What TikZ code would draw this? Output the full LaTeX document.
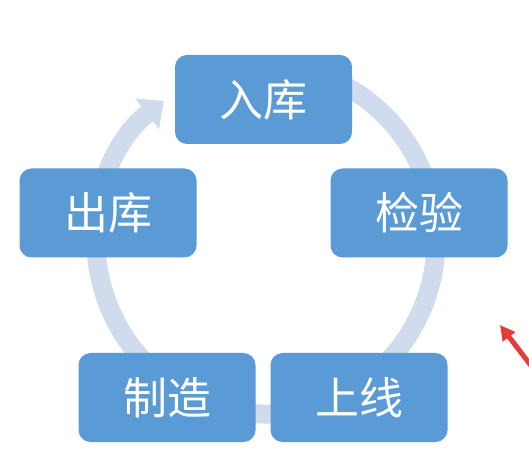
\documentclass[tikz,border=0pt]{standalone}
\usepackage{fontspec}
\newfontfamily\cjk{Noto Sans CJK SC}
\usepackage{tikz}
\usepackage{xcolor}
\usetikzlibrary{arrows.meta}
\definecolor{boxblue}{RGB}{91,155,213}
\definecolor{ringblue}{RGB}{208,220,238}
\definecolor{markred}{RGB}{232,58,58}
\tikzset{
  stepbox/.style={fill=boxblue,rounded corners=12pt,minimum width=177pt,minimum height=89pt,
    inner sep=0pt,text=white,font=\cjk\fontsize{44}{44}\selectfont},
}

\begin{document}
\begin{tikzpicture}[x=1pt,y=1pt]
                \useasboundingbox (0,0) rectangle (529,452);
                \clip (0,0) rectangle (529,452);
                \draw[ringblue,line width=19pt,-{Triangle[width=38pt,length=21pt]}]
                    (266,212) ++(110:170 and 174) arc[start angle=110,end angle=-233,x radius=170,y radius=174];
                \node[stepbox] (ruku) at (263.5,352.5) {入库};
                \node[stepbox] (jianyan) at (419,239) {检验};
                \node[stepbox] (shangxian) at (359,54.5) {上线};
                \node[stepbox] (zhizao) at (167,54.5) {制造};
                \node[stepbox] (chuku) at (108,239) {出库};
                \coordinate (marktail) at (545,68);
                \coordinate (marktip) at (500,127);
                \draw[markred,line width=5pt,-{Triangle[width=15pt,length=15pt]}] (marktail) -- (marktip);
            \end{tikzpicture}
\end{document}
